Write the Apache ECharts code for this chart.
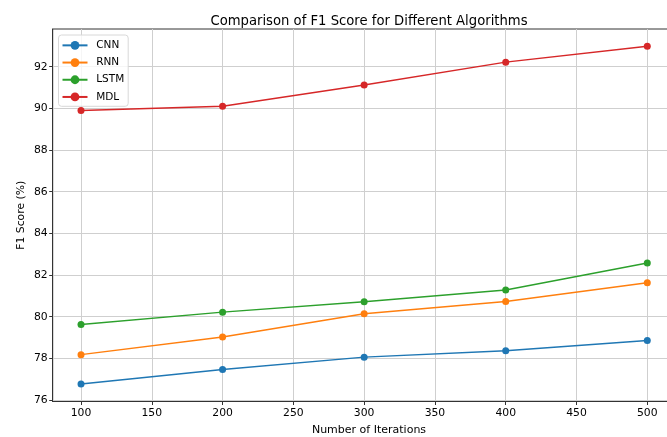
<!DOCTYPE html>
<html><head><meta charset="utf-8">
<script src="https://cdn.jsdelivr.net/npm/echarts@6/dist/echarts.min.js"></script>
<style>html,body{margin:0;padding:0;background:#fff}#c{width:667px;height:437px}</style>
</head><body><div id="c"></div>
<script>
const iterations = [100, 200, 300, 400, 500];
const cnn  = [76.77, 77.47, 78.06, 78.37, 78.86];
const rnn  = [78.18, 79.03, 80.14, 80.73, 81.63];
const lstm = [79.63, 80.22, 80.72, 81.28, 82.58];
const mdl  = [89.9, 90.1, 91.12, 92.22, 92.98];
const xTicks = [100, 150, 200, 250, 300, 350, 400, 450, 500];
const yTicks = [76, 78, 80, 82, 84, 86, 88, 90, 92];
const seriesNames = ['CNN', 'RNN', 'LSTM', 'MDL'];
const seriesData = [cnn, rnn, lstm, mdl];
const colors = ['#1f77b4', '#ff7f0e', '#2ca02c', '#d62728'];

const font = 'DejaVu Sans';
const chart = echarts.init(document.getElementById('c'), null, {renderer: 'canvas'});
chart.setOption({
  animation: false,
  color: colors,
  textStyle: {fontFamily: font},
  title: [
    {text: 'Comparison of F1 Score for Different Algorithms', left: 364, top: 10, textAlign: 'center',
     textStyle: {fontFamily: font, fontSize: 13.2, fontWeight: 'normal', color: '#000'}},
    {text: 'Number of Iterations', left: 364, top: 420, textAlign: 'center',
     textStyle: {fontFamily: font, fontSize: 11, fontWeight: 'normal', color: '#000'}}
  ],
  legend: {
    orient: 'vertical', left: 58.5, top: 35,
    data: seriesNames,
    itemWidth: 25, itemHeight: 11, itemGap: 4.5,
    padding: [4, 4, 3, 3],
    borderColor: '#d8d8d8', borderWidth: 1, borderRadius: 3,
    backgroundColor: 'rgba(255,255,255,0.8)',
    textStyle: {fontFamily: font, fontSize: 10.5, lineHeight: 12.7, color: '#000', padding: [0, 0, 0, 3.7]}
  },
  grid: {left: 52.7, top: 29, right: -8.6, bottom: 35.5, show: true, borderColor: '#333', borderWidth: 1,
         outerBoundsMode: 'none', containLabel: false},
  xAxis: {
    type: 'value', min: 80, max: 520,
    axisLine: {show: true, lineStyle: {color: '#333', width: 1}},
    axisTick: {show: true, length: 3.5, lineStyle: {color: '#333'}, customValues: xTicks},
    axisLabel: {customValues: xTicks, fontFamily: font, fontSize: 10.8, color: '#000', margin: 6},
    splitLine: {show: true, lineStyle: {color: '#cfcfcf', width: 1}}
  },
  yAxis: {
    type: 'value', min: 75.93, max: 93.81,
    name: 'F1 Score (%)', nameLocation: 'middle', nameGap: 26, nameMoveOverlap: false,
    nameTextStyle: {fontFamily: font, fontSize: 10.8, color: '#000'},
    axisLine: {show: true, lineStyle: {color: '#333', width: 1}},
    axisTick: {show: true, length: 3.5, lineStyle: {color: '#333'}, customValues: yTicks},
    axisLabel: {customValues: yTicks, fontFamily: font, fontSize: 10.8, color: '#000', margin: 5},
    splitLine: {show: true, lineStyle: {color: '#cfcfcf', width: 1}}
  },
  series: seriesNames.map((n, i) => ({
    name: n, type: 'line',
    data: iterations.map((x, j) => [x, seriesData[i][j]]),
    symbol: 'circle', symbolSize: 7, showSymbol: true,
    lineStyle: {width: 1.5, color: colors[i]},
    itemStyle: {color: colors[i]}
  }))
});
</script></body></html>
